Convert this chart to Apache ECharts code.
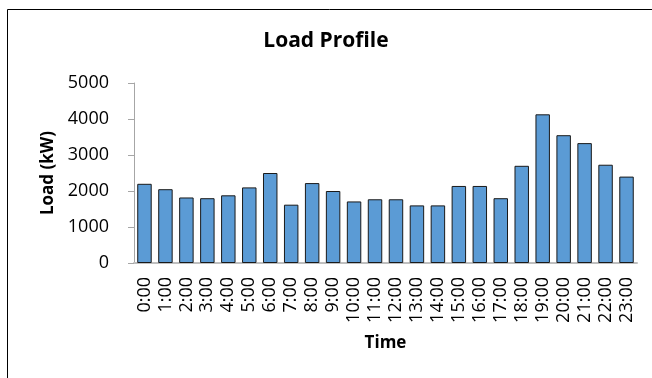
<!DOCTYPE html>
<html>
<head>
<meta charset="utf-8">
<script src="https://cdn.jsdelivr.net/npm/echarts@6/dist/echarts.min.js"></script>
<style>html,body{margin:0;padding:0;background:#fff}#c{width:652px;height:378px}</style>
</head>
<body>
<div id="c"></div>
<script>
const categories = ['0:00','1:00','2:00','3:00','4:00','5:00','6:00','7:00','8:00','9:00','10:00','11:00','12:00','13:00','14:00','15:00','16:00','17:00','18:00','19:00','20:00','21:00','22:00','23:00'];
const loadValues = [2200,2050,1820,1800,1880,2100,2500,1620,2220,2000,1710,1770,1770,1600,1600,2140,2140,1800,2700,4130,3550,3330,2730,2400];
const yTicks = [0,1000,2000,3000,4000,5000];
const titleText = 'Load Profile';
const xName = 'Time';
const yName = 'Load (kW)';

const chart = echarts.init(document.getElementById('c'), null, {renderer:'canvas'});
chart.setOption({
  animation:false,
  backgroundColor:'#fff',
  title:{text:titleText,left:'center',top:26,textStyle:{fontFamily:'Open Sans',fontWeight:'bold',fontSize:21,color:'#000'}},
  grid:{left:134,right:15,top:83,bottom:115,containLabel:false},
  xAxis:{type:'category',data:categories,name:xName,nameLocation:'middle',nameGap:72,
    nameTextStyle:{fontFamily:'Open Sans',fontWeight:'bold',fontSize:17,color:'#000',verticalAlign:'top'},
    axisLine:{lineStyle:{color:'#bfbfbf',width:2}},axisTick:{show:false},
    axisLabel:{rotate:90,interval:0,margin:14,fontFamily:'Open Sans',fontSize:18,color:'#000'}},
  yAxis:{type:'value',min:yTicks[0],max:yTicks[yTicks.length-1],interval:1000,name:yName,nameLocation:'middle',nameGap:77,
    nameTextStyle:{fontFamily:'Open Sans',fontWeight:'bold',fontSize:17,color:'#000'},
    axisLine:{show:true,lineStyle:{color:'#a6a6a6',width:1}},
    axisTick:{show:true,length:6,lineStyle:{color:'#a6a6a6'}},
    splitLine:{show:false},
    axisLabel:{margin:25,fontFamily:'Open Sans',fontSize:18,color:'#000',formatter:function(v){return String(v);}}},
  series:[{type:'bar',data:loadValues,barCategoryGap:'31%',
    itemStyle:{color:'#5b9bd5',borderColor:'#1a1a1a',borderWidth:1}}],
  graphic:[
    {type:'line',shape:{x1:7.5,y1:9.5,x2:652,y2:9.5},style:{stroke:'#000',lineWidth:1}},
    {type:'line',shape:{x1:7.5,y1:9.5,x2:7.5,y2:378},style:{stroke:'#000',lineWidth:1}}
  ]
});
</script>
</body>
</html>
